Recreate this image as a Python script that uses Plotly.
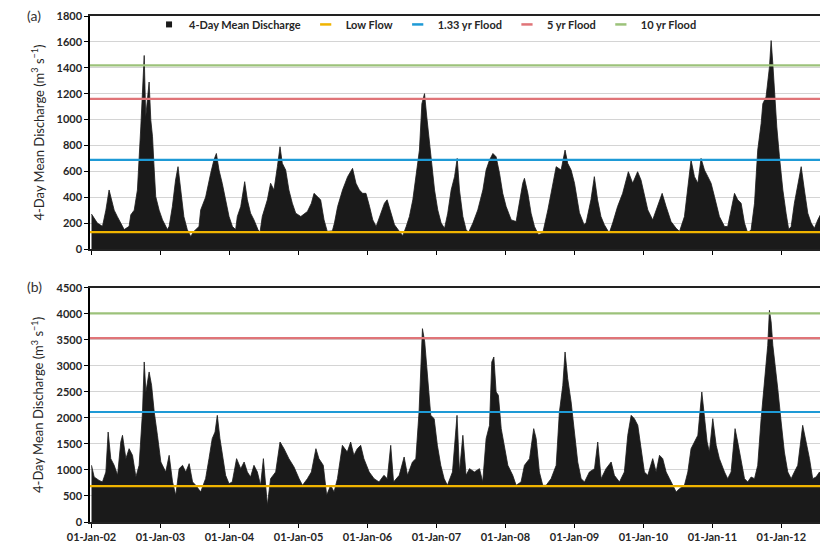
import plotly.graph_objects as go

# ---------------- data ----------------
dates_a = [
    "2002-01-01","2002-02-01","2002-02-28","2002-03-18","2002-04-04","2002-05-01","2002-05-18","2002-06-05",
    "2002-06-23","2002-07-19","2002-07-28","2002-08-15","2002-09-01","2002-09-19","2002-09-28","2002-10-07",
    "2002-10-15","2002-11-02","2002-11-11","2002-11-20","2002-11-29","2002-12-07","2002-12-25","2003-01-12",
    "2003-02-07","2003-02-16","2003-03-05","2003-03-22","2003-04-04","2003-04-18","2003-05-05","2003-05-23",
    "2003-06-10","2003-06-27","2003-07-24","2003-08-02","2003-08-28","2003-09-24","2003-10-11","2003-10-24",
    "2003-11-07","2003-11-24","2003-12-12","2003-12-30","2004-01-17","2004-02-03","2004-02-12","2004-03-01",
    "2004-03-22","2004-04-05","2004-04-22","2004-05-10","2004-05-31","2004-06-11","2004-06-23","2004-07-20",
    "2004-08-06","2004-08-24","2004-09-11","2004-09-25","2004-10-07","2004-10-25","2004-11-11","2004-11-29",
    "2004-12-17","2005-01-13","2005-02-17","2005-03-10","2005-03-24","2005-04-10","2005-04-28","2005-05-16",
    "2005-06-02","2005-06-29","2005-07-10","2005-07-27","2005-08-22","2005-09-18","2005-10-14","2005-11-01",
    "2005-11-19","2005-12-06","2005-12-24","2006-01-12","2006-01-29","2006-02-16","2006-03-06","2006-04-01",
    "2006-04-15","2006-05-06","2006-05-24","2006-06-19","2006-07-07","2006-07-25","2006-08-11","2006-08-29",
    "2006-09-16","2006-10-03","2006-10-16","2006-10-30","2006-11-11","2006-11-25","2006-12-08","2006-12-22",
    "2007-01-08","2007-01-26","2007-02-13","2007-03-02","2007-03-20","2007-04-07","2007-04-21","2007-05-03",
    "2007-05-21","2007-06-07","2007-06-20","2007-07-13","2007-08-08","2007-09-04","2007-09-21","2007-10-09",
    "2007-10-27","2007-11-13","2007-12-01","2007-12-18","2008-01-05","2008-02-01","2008-02-27","2008-03-16",
    "2008-04-02","2008-04-11","2008-04-29","2008-05-16","2008-06-03","2008-06-24","2008-07-17","2008-08-13",
    "2008-09-08","2008-09-26","2008-10-22","2008-11-12","2008-11-26","2008-12-14","2009-01-01","2009-01-27",
    "2009-02-20","2009-03-03","2009-03-29","2009-04-16","2009-05-03","2009-05-21","2009-06-08","2009-07-04",
    "2009-07-22","2009-08-17","2009-09-13","2009-10-13","2009-11-05","2009-12-01","2009-12-19","2010-01-06",
    "2010-01-24","2010-02-19","2010-03-18","2010-04-10","2010-05-01","2010-05-27","2010-06-23","2010-07-11",
    "2010-08-06","2010-08-24","2010-09-10","2010-09-28","2010-10-16","2010-11-02","2010-11-20","2010-12-08",
    "2010-12-25","2011-01-12","2011-02-07","2011-03-06","2011-03-23","2011-04-10","2011-04-28","2011-05-15",
    "2011-06-02","2011-06-20","2011-07-07","2011-07-25","2011-08-12","2011-08-29","2011-09-16","2011-09-25",
    "2011-10-12","2011-10-30","2011-11-08","2011-11-17","2011-11-25","2011-12-08","2011-12-22","2012-01-09",
    "2012-01-26","2012-02-09","2012-02-22","2012-03-10","2012-04-02","2012-04-15","2012-05-02","2012-05-20",
    "2012-06-07","2012-06-24","2012-07-12","2012-07-30","2012-09-04",
]
discharge_a = [
    270, 200, 175, 300, 456, 300, 250, 200,
    150, 175, 264, 300, 456, 943, 1277, 1495,
    1020, 1290, 995, 867, 610, 405, 300, 225,
    150, 175, 328, 533, 636, 456, 250, 150,
    97, 136, 174, 302, 400, 585, 687, 738,
    610, 508, 380, 251, 174, 150, 251, 328,
    520, 380, 277, 225, 150, 128, 251, 380,
    508, 456, 636, 790, 662, 610, 456, 354,
    277, 251, 290, 354, 430, 405, 380, 225,
    136, 140, 200, 328, 456, 559, 623, 508,
    456, 430, 430, 328, 225, 174, 251, 354,
    380, 277, 187, 136, 103, 174, 251, 380,
    585, 764, 1123, 1200, 1020, 841, 636, 456,
    302, 200, 160, 277, 456, 559, 700, 456,
    251, 150, 128, 200, 302, 456, 610, 687,
    738, 712, 585, 430, 328, 225, 212, 354,
    508, 546, 430, 277, 174, 110, 123, 302,
    508, 636, 610, 764, 662, 610, 508, 280,
    190, 200, 380, 559, 380, 251, 187, 123,
    200, 328, 430, 597, 508, 597, 533, 405,
    302, 225, 328, 430, 328, 212, 160, 136,
    251, 456, 687, 559, 508, 700, 610, 559,
    508, 405, 251, 174, 174, 302, 430, 380,
    354, 200, 123, 150, 354, 764, 969, 1123,
    1174, 1405, 1610, 1430, 1226, 943, 713, 456,
    277, 150, 174, 354, 533, 636, 456, 277,
    200, 160, 225, 277, 328,
]

dates_b = [
    "2002-01-01","2002-01-15","2002-02-10","2002-02-28","2002-03-18","2002-03-30","2002-04-13","2002-05-01",
    "2002-05-19","2002-06-05","2002-06-14","2002-07-02","2002-07-19","2002-08-06","2002-08-24","2002-09-10",
    "2002-09-28","2002-10-07","2002-10-16","2002-11-02","2002-11-15","2002-11-29","2002-12-16","2003-01-03",
    "2003-01-29","2003-02-16","2003-03-06","2003-03-23","2003-04-10","2003-04-28","2003-05-15","2003-06-02",
    "2003-06-20","2003-07-07","2003-08-02","2003-08-28","2003-09-15","2003-10-02","2003-10-17","2003-10-29",
    "2003-11-12","2003-11-24","2003-12-12","2003-12-30","2004-01-16","2004-02-08","2004-03-01","2004-03-19",
    "2004-04-05","2004-04-22","2004-05-10","2004-05-28","2004-06-14","2004-06-29","2004-07-11","2004-07-20",
    "2004-08-06","2004-09-02","2004-09-25","2004-10-16","2004-11-11","2004-12-08","2005-01-04","2005-01-22",
    "2005-02-17","2005-03-10","2005-04-03","2005-04-19","2005-05-12","2005-05-30","2005-06-20","2005-07-08",
    "2005-07-26","2005-08-21","2005-09-16","2005-10-04","2005-10-21","2005-11-08","2005-11-26","2005-12-13",
    "2006-01-10","2006-02-05","2006-03-03","2006-03-29","2006-04-16","2006-05-04","2006-05-19","2006-06-18",
    "2006-07-14","2006-08-01","2006-08-27","2006-09-14","2006-10-01","2006-10-10","2006-10-19","2006-10-31",
    "2006-11-15","2006-12-02","2006-12-20","2007-01-06","2007-01-24","2007-02-11","2007-02-28","2007-03-27",
    "2007-04-20","2007-05-03","2007-05-21","2007-06-07","2007-06-25","2007-07-21","2007-08-17","2007-09-03",
    "2007-09-21","2007-10-09","2007-10-21","2007-11-01","2007-11-13","2007-11-25","2007-12-10","2007-12-27",
    "2008-01-14","2008-02-09","2008-02-27","2008-03-24","2008-04-11","2008-05-08","2008-05-30","2008-06-12",
    "2008-06-29","2008-07-17","2008-08-04","2008-08-30","2008-09-26","2008-10-13","2008-10-31","2008-11-12",
    "2008-11-26","2008-12-14","2009-01-01","2009-01-18","2009-02-05","2009-02-23","2009-03-21","2009-04-17",
    "2009-05-04","2009-05-22","2009-06-17","2009-07-14","2009-07-31","2009-08-27","2009-09-22","2009-10-10",
    "2009-10-28","2009-11-14","2009-12-02","2009-12-20","2010-01-06","2010-01-24","2010-02-19","2010-03-09",
    "2010-03-27","2010-04-13","2010-05-01","2010-05-19","2010-06-05","2010-06-23","2010-07-11","2010-08-06",
    "2010-08-24","2010-09-10","2010-09-28","2010-10-16","2010-11-06","2010-11-20","2010-12-04","2010-12-16",
    "2011-01-03","2011-01-21","2011-02-07","2011-03-06","2011-03-23","2011-04-10","2011-05-01","2011-05-15",
    "2011-06-02","2011-06-20","2011-07-07","2011-07-25","2011-08-12","2011-08-29","2011-09-16","2011-10-03",
    "2011-10-21","2011-10-30","2011-11-08","2011-11-17","2011-11-29","2011-12-13","2011-12-31","2012-01-17",
    "2012-02-04","2012-02-22","2012-03-10","2012-03-28","2012-04-23","2012-05-11","2012-05-29","2012-06-15",
    "2012-07-03","2012-07-21","2012-08-07","2012-09-04",
]
discharge_b = [
    1090, 865, 800, 770, 960, 1730, 1218, 1090,
    900, 1538, 1667, 1218, 1410, 1282, 865, 1090,
    2115, 3077, 2500, 2885, 2628, 2115, 1667, 1154,
    960, 1282, 770, 513, 1026, 1090, 960, 1122,
    770, 705, 577, 833, 1218, 1603, 1731, 2051,
    1603, 1282, 897, 737, 770, 1218, 1026, 1154,
    962, 865, 1090, 962, 705, 1218, 705, 320,
    833, 962, 1538, 1410, 1218, 1058, 833, 705,
    833, 962, 1410, 1218, 1090, 513, 705, 577,
    833, 1474, 1346, 1538, 1282, 1410, 1474, 1218,
    962, 833, 770, 897, 833, 1474, 770, 897,
    1250, 897, 1154, 1218, 2115, 2949, 3718, 3461,
    2820, 2051, 1987, 1474, 1090, 833, 705, 962,
    2051, 962, 1667, 897, 1026, 962, 1026, 770,
    1603, 1859, 3077, 3173, 2500, 2436, 1795, 1474,
    1090, 897, 705, 770, 1090, 1218, 1795, 1603,
    962, 705, 705, 833, 1090, 2115, 2628, 3269,
    2756, 2308, 1667, 1154, 833, 770, 962, 1026,
    1538, 833, 1026, 1154, 897, 770, 962, 1667,
    2051, 1987, 1859, 1346, 962, 897, 1218, 962,
    1282, 1218, 962, 833, 705, 577, 641, 705,
    962, 1410, 1538, 1667, 2500, 1987, 1538, 1346,
    1987, 1474, 1218, 962, 833, 962, 1795, 1538,
    1154, 833, 770, 865, 833, 1090, 1987, 2756,
    3397, 4070, 3846, 3397, 2949, 2564, 1923, 1346,
    962, 833, 962, 1090, 1859, 1538, 1218, 833,
    865, 962, 897, 1090,
]

threshold_names = ["Low Flow", "1.33 yr Flood", "5 yr Flood", "10 yr Flood"]
threshold_colors = ["#f0b400", "#1e9ad6", "#e07478", "#9cc27a"]
thresholds_a = [130, 688, 1160, 1418]
thresholds_b = [690, 2115, 3535, 4010]

year_ticks = ["2002-01-01", "2003-01-01", "2004-01-01", "2005-01-01", "2006-01-01", "2007-01-01",
              "2008-01-01", "2009-01-01", "2010-01-01", "2011-01-01", "2012-01-01"]
x_range = ["2001-12-24", "2012-09-04"]

# ---------------- figure ----------------
# the page body adds an 8 px margin, so the figure is sized 8 px smaller
FONT = "Lato"
tick_font = dict(family=FONT, size=11, color="#262626", weight="bold")

fig = go.Figure()
fig.add_trace(go.Scatter(x=dates_a, y=discharge_a, mode="lines", fill="tozeroy",
                         line=dict(color="#1a1a1a", width=0.8), fillcolor="#1a1a1a",
                         showlegend=False, xaxis="x", yaxis="y", hoverinfo="skip"))
fig.add_trace(go.Scatter(x=dates_b, y=discharge_b, mode="lines", fill="tozeroy",
                         line=dict(color="#1a1a1a", width=0.8), fillcolor="#1a1a1a",
                         showlegend=False, xaxis="x2", yaxis="y2", hoverinfo="skip"))

# legend entries
fig.add_trace(go.Scatter(x=[None], y=[None], mode="markers", name="4-Day Mean Discharge",
                         marker=dict(symbol="square", size=6, color="#1a1a1a"),
                         xaxis="x", yaxis="y"))
for name, col in zip(threshold_names, threshold_colors):
    fig.add_trace(go.Scatter(x=[None], y=[None], mode="markers", name=name,
                             marker=dict(symbol="line-ew", size=8, line=dict(color=col, width=2.5)),
                             xaxis="x", yaxis="y"))

# threshold lines
for vals, yref, xref in [(thresholds_a, "y", "x domain"), (thresholds_b, "y2", "x2 domain")]:
    for v, col in zip(vals, threshold_colors):
        fig.add_shape(type="line", xref=xref, x0=0, x1=1, yref=yref, y0=v, y1=v,
                      line=dict(color=col, width=2.2), layer="above")

dom_a = [0.5395, 1.0]
dom_b = [0.0, 0.4625]

common_x = dict(type="date", range=x_range, tickvals=year_ticks, ticks="outside", ticklen=4,
                tickcolor="#000", showline=True, linecolor="#222", linewidth=1.5, mirror=True,
                showgrid=False, zeroline=False)
common_y = dict(ticks="outside", ticklen=4, tickcolor="#000", showline=True, linecolor="#000",
                linewidth=1.5, showgrid=True, gridcolor="#d4d4d4", gridwidth=1, zeroline=False,
                tickfont=tick_font)

fig.update_layout(
    width=820, height=538,
    margin=dict(l=82, r=0, t=8, b=24),
    paper_bgcolor="white", plot_bgcolor="white",
    xaxis=dict(common_x, anchor="y", domain=[0, 1], showticklabels=False),
    yaxis=dict(common_y, anchor="x", domain=dom_a, range=[0, 1800], dtick=200),
    xaxis2=dict(common_x, anchor="y2", domain=[0, 1], showticklabels=True,
                tickformat="%d-%b-%y", tickfont=tick_font),
    yaxis2=dict(common_y, anchor="x2", domain=dom_b, range=[0, 4500], dtick=500),
    legend=dict(orientation="h", x=0.08, xanchor="left", y=1.012, yanchor="top",
                bgcolor="rgba(0,0,0,0)", font=dict(family=FONT, size=11, color="#262626", weight="bold"),
                itemwidth=30, tracegroupgap=0),
    showlegend=True,
)

ytitle = "4-Day Mean Discharge (m<sup>3</sup> s<sup>−1</sup>)"
for yc in [(dom_a[0] + dom_a[1]) / 2, (dom_b[0] + dom_b[1]) / 2]:
    fig.add_annotation(text=ytitle, xref="paper", yref="paper", x=0, y=yc, xanchor="center",
                       yanchor="middle", xshift=-52, textangle=-90, showarrow=False,
                       font=dict(family=FONT, size=13, color="#262626"))
for lab, yt in [("(a)", dom_a[1]), ("(b)", dom_b[1])]:
    fig.add_annotation(text=lab, xref="paper", yref="paper", x=0, y=yt, xanchor="center",
                       yanchor="middle", xshift=-56, yshift=1, showarrow=False,
                       font=dict(family=FONT, size=14, color="#333"))

fig.write_html("out.html")
